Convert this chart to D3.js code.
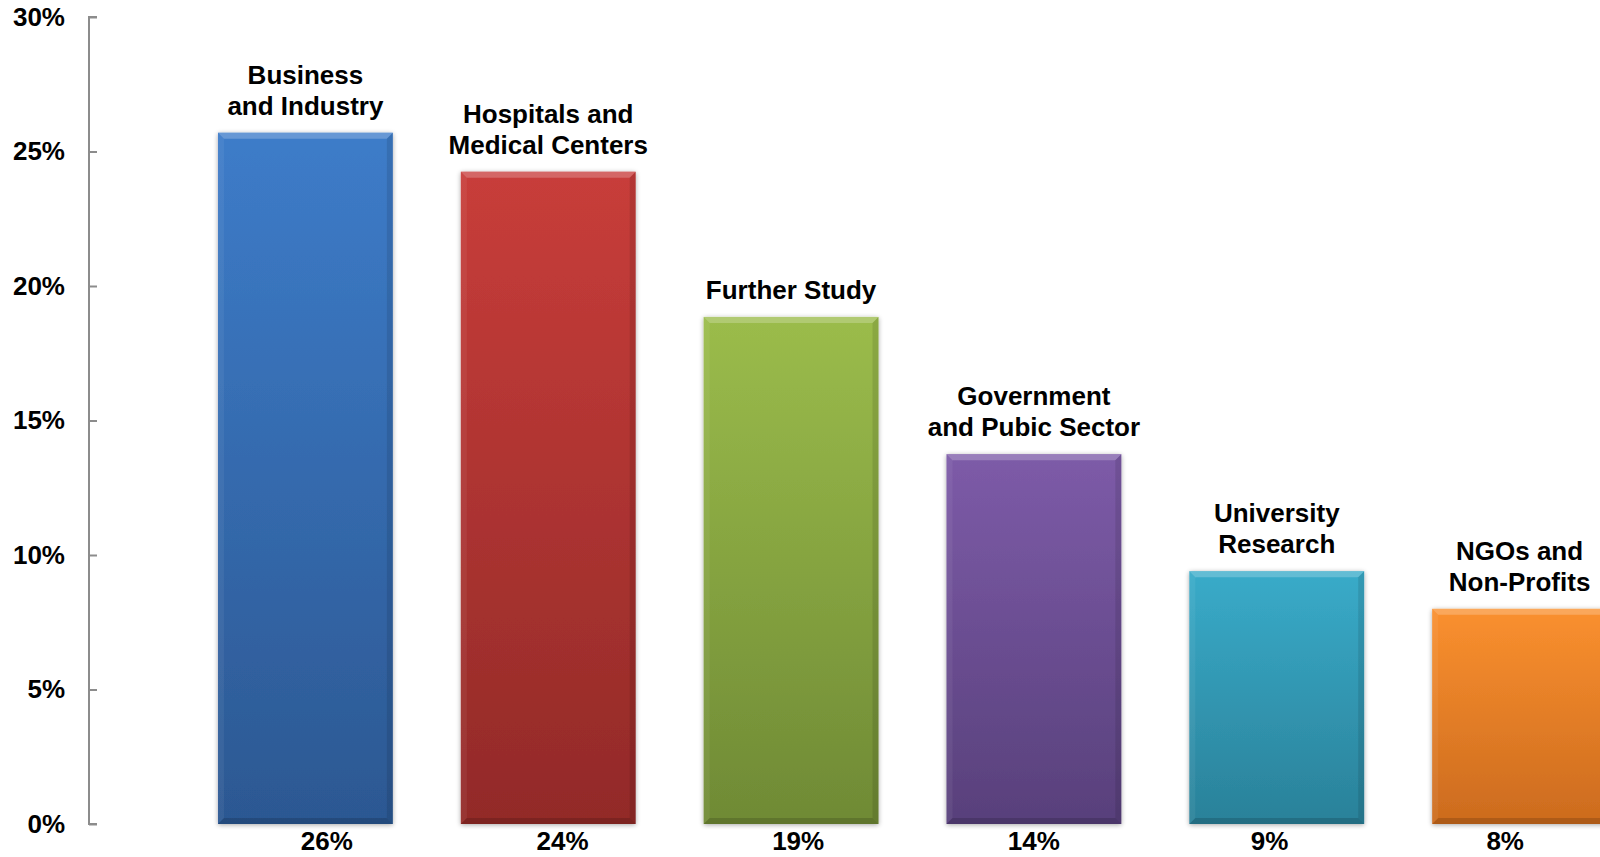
<!DOCTYPE html>
<html>
<head>
<meta charset="utf-8">
<script src="https://cdn.jsdelivr.net/npm/d3@7"></script>
<style>
  body { margin: 0; background: #fff; overflow: hidden; }
  svg { display: block; font-family: "Liberation Sans", Arial, sans-serif; }
</style>
</head>
<body>
<div class="container"></div>
<script>
// data
const categories = ['Business and Industry', 'Hospitals and Medical Centers', 'Further Study',
                    'Government and Pubic Sector', 'University Research', 'NGOs and Non-Profits'];
const labelLines = [['Business', 'and Industry'], ['Hospitals and', 'Medical Centers'], ['Further Study'],
                    ['Government', 'and Pubic Sector'], ['University', 'Research'], ['NGOs and', 'Non-Profits']];
const values = [25.7, 24.25, 18.85, 13.75, 9.4, 8.0];
const yTicks = [0, 5, 10, 15, 20, 25, 30];
const topColors = ['#3d7cc9', '#c83d3a', '#9bbc4b', '#7d5ba8', '#39abc9', '#fa902f'];
const bottomColors = ['#2c5892', '#922a28', '#6f8a35', '#58407b', '#2a8199', '#cc6b1e'];

const width = 1600;
const height = 857;

const svg = d3.select('.container')
              .append('svg')
              .attr('width', width)
              .attr('height', height);

const defs = svg.append('defs');

// soft shadow round the bars
const shadow = defs.append('filter').attr('id', 'shadow')
                   .attr('x', '-10%').attr('y', '-10%').attr('width', '120%').attr('height', '120%');
shadow.append('feGaussianBlur').attr('in', 'SourceAlpha').attr('stdDeviation', 2.5);
shadow.append('feOffset').attr('dx', 0).attr('dy', 1).attr('result', 'blur');
shadow.append('feComponentTransfer').append('feFuncA').attr('type', 'linear').attr('slope', 0.35);
const merge = shadow.append('feMerge');
merge.append('feMergeNode');
merge.append('feMergeNode').attr('in', 'SourceGraphic');

categories.forEach((c, i) => {
    const g = defs.append('linearGradient').attr('id', 'grad' + i)
                  .attr('x1', 0).attr('y1', 0).attr('x2', 0).attr('y2', 1);
    g.append('stop').attr('offset', '0%').attr('stop-color', topColors[i]);
    g.append('stop').attr('offset', '100%').attr('stop-color', bottomColors[i]);
});

const x = d3.scaleBand()
            .domain(categories)
            .range([184, 1641])
            .paddingInner(0.28)
            .paddingOuter(0.14);

// the value labels under the bars sit on a slightly tighter spacing
const xLabel = d3.scaleBand()
                 .domain(categories)
                 .range([209, 1623]);

const y = d3.scaleLinear()
            .domain([0, 30])
            .range([824, 17]);

// y axis, ticks pointing into the plot
const yAxis = d3.axisRight(y)
                .tickValues(yTicks)
                .tickSize(8)
                .tickFormat(d => d + '%');

const axisG = svg.append('g')
                 .attr('transform', 'translate(89,0)')
                 .call(yAxis);
axisG.select('.domain').attr('stroke', '#8c8c8c').attr('stroke-width', 2)
     .attr('d', `M8,${y(30)}H0V${y(0)}H8`);
axisG.selectAll('.tick line').attr('stroke', '#8c8c8c').attr('stroke-width', 2);
axisG.selectAll('.tick text')
     .attr('x', -24)
     .attr('text-anchor', 'end')
     .attr('font-size', 26)
     .attr('font-weight', 'bold')
     .attr('fill', '#000');

const rows = categories.map((c, i) => ({ c, i, v: values[i], lines: labelLines[i] }));

const bars = svg.append('g').selectAll('g')
                .data(rows)
                .join('g');

const bw = x.bandwidth();
const bev = 6;

bars.append('rect')
    .attr('x', d => x(d.c))
    .attr('y', d => y(d.v))
    .attr('width', bw)
    .attr('height', d => y(0) - y(d.v))
    .attr('fill', d => `url(#grad${d.i})`)
    .attr('filter', 'url(#shadow)');

// bevel: light top, slightly darker sides and bottom
bars.append('path')
    .attr('d', d => {
        const x0 = x(d.c), x1 = x0 + bw, y0 = y(d.v);
        return `M${x0},${y0}H${x1}L${x1 - bev},${y0 + bev}H${x0 + bev}Z`;
    })
    .attr('fill', '#fff').attr('opacity', 0.22);

bars.append('path')
    .attr('d', d => {
        const x0 = x(d.c), y0 = y(d.v), y1 = y(0);
        return `M${x0},${y0}L${x0 + bev},${y0 + bev}V${y1 - bev}L${x0},${y1}Z`;
    })
    .attr('fill', '#fff').attr('opacity', 0.06);

bars.append('path')
    .attr('d', d => {
        const x1 = x(d.c) + bw, y0 = y(d.v), y1 = y(0);
        return `M${x1},${y0}L${x1 - bev},${y0 + bev}V${y1 - bev}L${x1},${y1}Z`;
    })
    .attr('fill', '#000').attr('opacity', 0.1);

bars.append('path')
    .attr('d', d => {
        const x0 = x(d.c), x1 = x0 + bw, y1 = y(0);
        return `M${x0},${y1}H${x1}L${x1 - bev},${y1 - bev}H${x0 + bev}Z`;
    })
    .attr('fill', '#000').attr('opacity', 0.15);

// category labels above the bars
bars.append('text')
    .attr('text-anchor', 'middle')
    .attr('font-size', 26)
    .attr('font-weight', 'bold')
    .attr('fill', '#000')
    .each(function (d) {
        const t = d3.select(this);
        const n = d.lines.length;
        d.lines.forEach((line, k) => {
            t.append('tspan')
             .attr('x', x(d.c) + bw / 2)
             .attr('y', y(d.v) - 18 - (n - 1 - k) * 31)
             .text(line);
        });
    });

// value labels under the bars
bars.append('text')
    .attr('x', d => xLabel(d.c) + xLabel.bandwidth() / 2)
    .attr('y', 850)
    .attr('text-anchor', 'middle')
    .attr('font-size', 26)
    .attr('font-weight', 'bold')
    .attr('fill', '#000')
    .text(d => d3.format('.0f')(d.v) + '%');
</script>
</body>
</html>
